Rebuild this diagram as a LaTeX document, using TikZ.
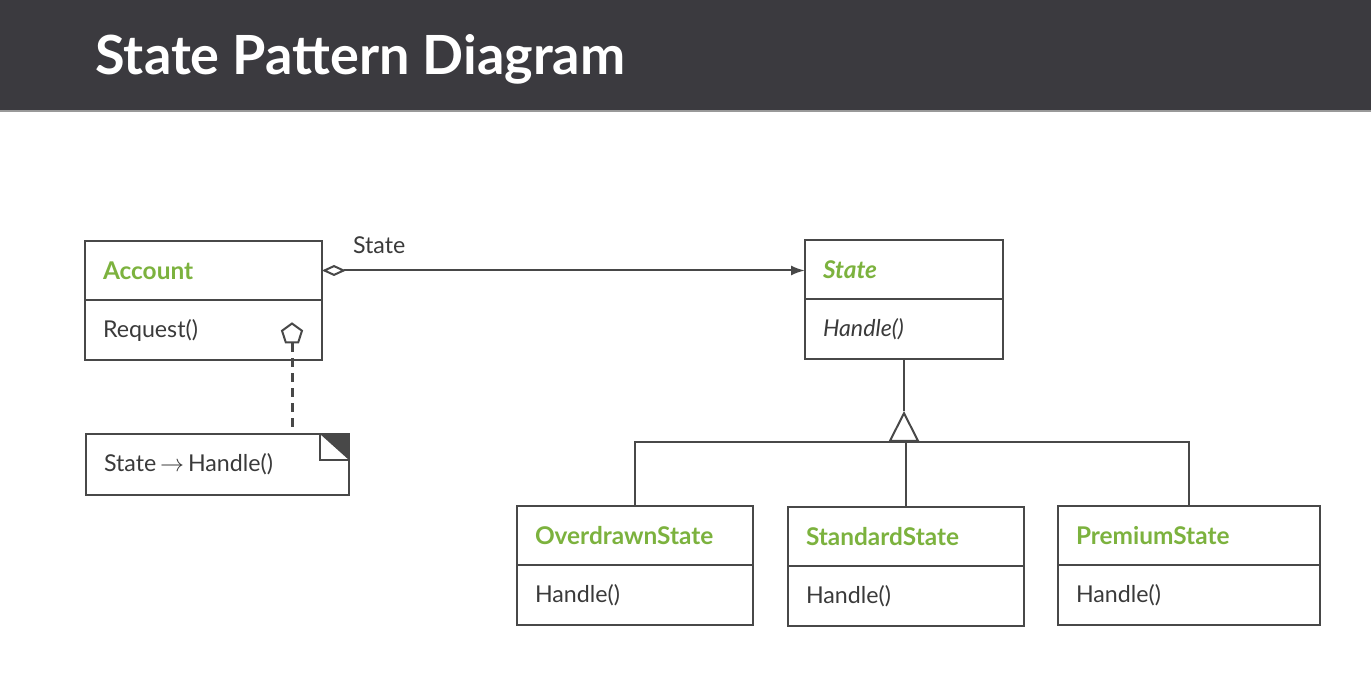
\documentclass[tikz,border=0pt]{standalone}
\usepackage{fontspec}
\setmainfont{Lato}
\usetikzlibrary{positioning, arrows.meta, shapes.geometric, calc}

\definecolor{barcol}{RGB}{59,58,63}
\definecolor{leaf}{RGB}{124,178,62}
\definecolor{ink}{RGB}{58,58,58}
\definecolor{edge}{RGB}{72,72,72}

\begin{document}
\begin{tikzpicture}[
  x=0.5pt, y=-0.5pt,
  >={Latex[length=7pt, width=5pt]},
  every node/.style={font=\fontsize{11.6}{13}\selectfont, text=ink}
]
\tikzset{
  box/.style    ={draw=edge, line width=1pt, inner xsep=9pt, inner ysep=0pt,
                  outer sep=0pt, align=left},
  head/.style   ={box, minimum height=29.5pt, text=leaf,
                  font=\fontsize{12.2}{14}\selectfont\bfseries},
  body/.style   ={box, minimum height=30pt},
  conn/.style   ={draw=edge, line width=1pt},
  note/.style   ={conn, dash pattern=on 4.5pt off 3pt, line width=1.5pt},
  inherit/.style={conn, -{Triangle[open, length=15.5pt, width=15.5pt]}},
  aggr/.style   ={conn, {Diamond[open, length=12pt, width=5.5pt]}->},
  lab/.style    ={inner sep=0pt}
}
\useasboundingbox (0,0) rectangle (1371,678);

%% ----- Title bar -----
\fill[barcol] (0,0) rectangle (1371,110);
\fill[black!40] (0,110) rectangle (1371,112);
\node[anchor=base west, inner sep=0pt, text=white,
      font=\fontsize{27}{32}\selectfont\bfseries] (title) at (95,75)
  {State Pattern Diagram};

%% ----- Context: Account -----
\node[head, anchor=north west, text width=100.5pt] (acc) at (85,241) {Account};
\node[body, below=0pt of acc, text width=100.5pt] (acc-b) {Request()};
\node[regular polygon, regular polygon sides=5, draw=edge, line width=1pt,
      minimum size=10.5pt, inner sep=0pt, fill=white] (pent) at (292,334) {};

%% ----- Note -----
\node[body, anchor=north west, minimum height=30.5pt, text width=113.5pt]
  (memo) at (86,434) {State\,$\rightarrow$\,Handle()};
\draw[conn] ([xshift=-14.5pt]memo.north east) |- ([yshift=-13pt]memo.north east);
\fill[edge] ([xshift=-14.5pt]memo.north east) -- (memo.north east)
  -- ([yshift=-13pt]memo.north east) -- cycle;
\draw[note] (pent.south) -- (memo.north -| pent.south);

%% ----- Abstract State -----
\node[head, anchor=north west, text width=81pt,
      font=\fontsize{12.2}{14}\selectfont\bfseries\itshape] (st) at (805,240) {State};
\node[body, below=0pt of st, text width=81pt,
      font=\fontsize{11.6}{13}\selectfont\itshape] (st-b) {Handle()};

\draw[aggr] (acc.east) -- (acc.east -| st.west)
  node[lab, pos=0, anchor=south west, xshift=15pt, yshift=8pt] {State};

%% ----- Concrete states -----
\node[head, anchor=north west, text width=100pt] (od) at (517,506) {OverdrawnState};
\node[body, below=0pt of od, text width=100pt] (od-b) {Handle()};
\node[head, anchor=north west, text width=100pt] (sd) at (788,507) {StandardState};
\node[body, below=0pt of sd, text width=100pt] (sd-b) {Handle()};
\node[head, anchor=north west, text width=113pt] (pr) at (1058,506) {PremiumState};
\node[body, below=0pt of pr, text width=113pt] (pr-b) {Handle()};

%% ----- Generalisation -----
\coordinate[below=41.5pt of st-b.south] (bus);
\coordinate[above=15.5pt of bus] (apex);
\draw[conn] (od.north) |- (bus) -| (pr.north);
\draw[conn] (sd.north) -- (sd.north |- bus);
\draw[conn] (st-b.south) -- (apex);
\draw[inherit] (bus) -- (apex);

\end{tikzpicture}
\end{document}
